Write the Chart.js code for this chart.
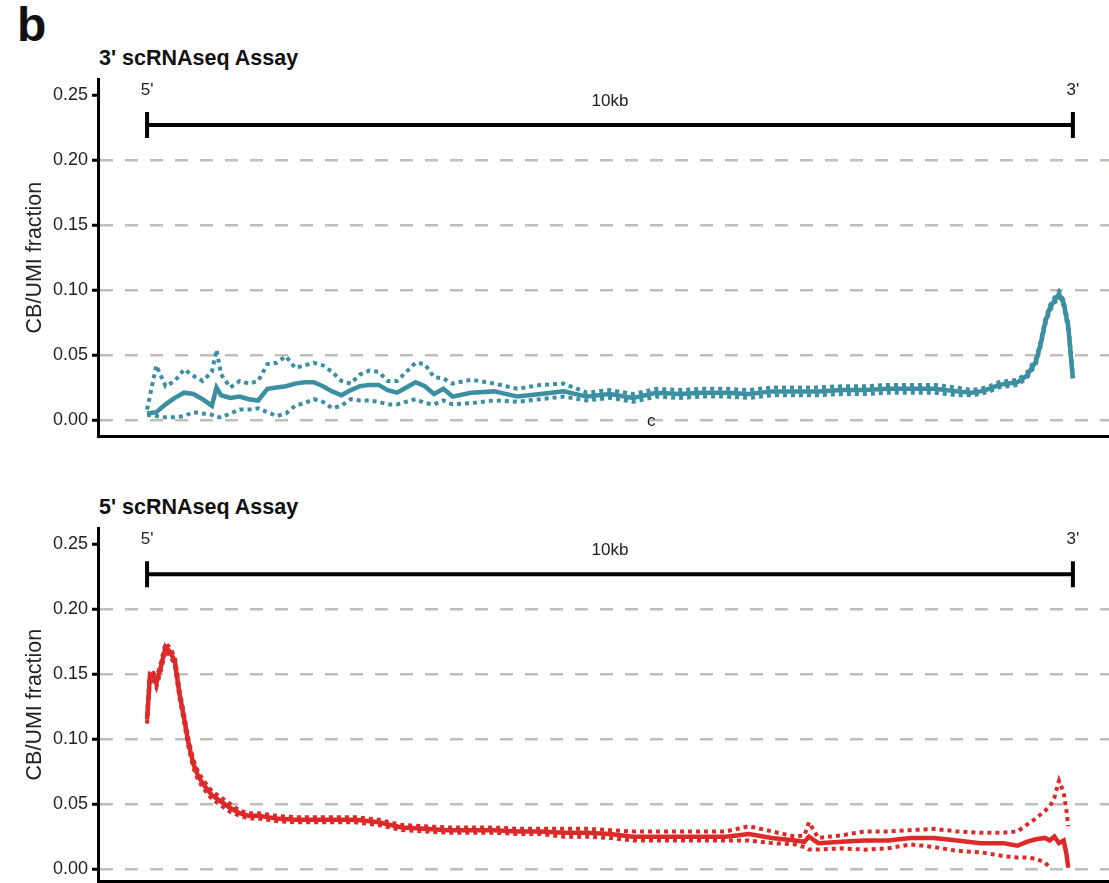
<!DOCTYPE html>
<html>
<head>
<meta charset="utf-8">
<script src="https://cdn.jsdelivr.net/npm/chart.js@4.4.1/dist/chart.umd.min.js"></script>
<style>
  body { margin: 0; background: #fff; width: 1109px; height: 883px; overflow: hidden; position: relative;
         font-family: "Liberation Sans", Arial, sans-serif; color: #111; }
  .panel { position: absolute; left: 0; width: 1109px; }
  .tag { position: absolute; left: 17px; top: 1px; font-size: 48px; font-weight: bold; line-height: 1; }
  .title { position: absolute; left: 99px; font-size: 21.5px; font-weight: bold; line-height: 1; }
  .stray { position: absolute; left: 647px; top: 412px; font-size: 17px; line-height: 1; color: #222; }
</style>
</head>
<body>
<div class="tag">b</div>
<div class="title" style="top:48px">3' scRNAseq Assay</div>
<div class="title" style="top:497px">5' scRNAseq Assay</div>
<div class="panel" style="top:0px; height:451px"><canvas id="chart3"></canvas></div>
<div class="panel" style="top:449px; height:447px"><canvas id="chart5"></canvas></div>
<div class="stray">c</div>
<script>
// gene body position (% of 10kb, 5' -> 3')
const pos3 = [0,1,2,3,4,5,6,7,7.5,8,9,10,11,12,13,14,15,16,17,18,19,20,21,22,23,24,25,26,27,28,29,30,31,32,33,
  35,37.5,40,42.5,45,47.5,50,52.5,55,57.5,60,62.5,65,67.5,70,72.5,75,77.5,80,82.5,85,87.5,
  89,90,91,92,93,94,95,96,96.5,97,97.5,98,98.5,99,99.5,100];
const mean3 = [0.005,0.006,0.012,0.017,0.021,0.020,0.016,0.011,0.025,0.019,0.017,0.018,0.016,0.015,0.024,0.025,0.026,0.028,0.029,0.029,0.026,0.022,0.019,0.023,0.026,0.027,0.027,0.023,0.021,0.025,0.029,0.026,0.020,0.024,0.018,
  0.021,0.022,0.018,0.020,0.022,0.018,0.020,0.017,0.021,0.020,0.021,0.021,0.020,0.022,0.022,0.022,0.023,0.023,0.024,0.024,0.024,0.022,
  0.021,0.022,0.024,0.027,0.028,0.029,0.034,0.045,0.058,0.075,0.086,0.092,0.097,0.090,0.072,0.032];
const upper3 = [0.008,0.042,0.026,0.030,0.039,0.034,0.030,0.037,0.054,0.035,0.025,0.030,0.028,0.030,0.043,0.044,0.049,0.040,0.042,0.044,0.042,0.037,0.030,0.028,0.035,0.038,0.037,0.030,0.030,0.037,0.044,0.043,0.033,0.032,0.028,
  0.031,0.028,0.024,0.027,0.028,0.021,0.023,0.020,0.024,0.023,0.024,0.024,0.023,0.025,0.025,0.025,0.026,0.026,0.027,0.027,0.027,0.025,
  0.023,0.024,0.026,0.029,0.030,0.031,0.036,0.047,0.060,0.077,0.088,0.094,0.099,0.092,0.074,0.034];
const lower3 = [0.004,0.003,0.002,0.002,0.003,0.006,0.005,0.004,0.002,0.002,0.005,0.008,0.008,0.009,0.006,0.003,0.005,0.011,0.013,0.016,0.014,0.009,0.011,0.016,0.015,0.015,0.014,0.012,0.012,0.014,0.016,0.013,0.012,0.015,0.012,
  0.013,0.015,0.014,0.016,0.018,0.015,0.017,0.014,0.018,0.017,0.018,0.018,0.017,0.019,0.019,0.019,0.020,0.020,0.021,0.021,0.021,0.019,
  0.019,0.020,0.022,0.025,0.026,0.027,0.032,0.043,0.056,0.073,0.084,0.090,0.095,0.088,0.070,0.030];

const pos5 = [0,0.3,0.6,1,1.5,2,2.5,3,3.5,4,4.5,5,5.5,6,7,8,9,10,11,12,13,14,16,18,20,
  22.5,25,27.5,30,32.5,35,37.5,40,42.5,45,47.5,50,52.5,55,57.5,60,62.5,65,67.5,70,71,71.5,
  72.5,75,77.5,80,82.5,85,87.5,90,92.5,94,95,96,97,97.5,98,98.5,99,99.3,99.5];
const mean5 = [0.115,0.148,0.150,0.143,0.156,0.171,0.167,0.160,0.135,0.116,0.096,0.081,0.072,0.066,0.057,0.052,0.047,0.043,0.041,0.041,0.040,0.039,0.038,0.038,0.038,
  0.038,0.036,0.032,0.031,0.030,0.030,0.030,0.029,0.029,0.028,0.028,0.027,0.025,0.025,0.025,0.025,0.025,0.027,0.024,0.022,0.021,0.025,
  0.020,0.021,0.022,0.022,0.024,0.024,0.022,0.020,0.020,0.018,0.021,0.023,0.024,0.022,0.025,0.020,0.022,0.012,0.001];
const upper5 = [0.118,0.151,0.153,0.146,0.159,0.174,0.170,0.163,0.138,0.119,0.099,0.084,0.075,0.069,0.060,0.055,0.050,0.045,0.043,0.043,0.042,0.041,0.040,0.040,0.040,
  0.040,0.038,0.034,0.033,0.032,0.032,0.032,0.031,0.031,0.031,0.031,0.030,0.029,0.029,0.029,0.029,0.029,0.033,0.029,0.025,0.026,0.036,
  0.024,0.026,0.029,0.029,0.030,0.031,0.029,0.028,0.028,0.029,0.034,0.039,0.045,0.048,0.055,0.068,0.059,0.045,0.033];
const lower5 = [0.112,0.145,0.147,0.140,0.153,0.168,0.164,0.157,0.132,0.113,0.093,0.078,0.069,0.063,0.054,0.049,0.044,0.041,0.039,0.039,0.038,0.037,0.036,0.036,0.036,
  0.036,0.034,0.030,0.029,0.028,0.028,0.028,0.027,0.027,0.025,0.025,0.024,0.022,0.022,0.022,0.022,0.022,0.022,0.020,0.019,0.017,0.015,
  0.015,0.016,0.015,0.016,0.019,0.017,0.014,0.013,0.010,0.009,0.009,0.008,0.005,0.001,null,null,null,null,null];

const yTicks = [0, 0.05, 0.10, 0.15, 0.20, 0.25];
const bracketFrom = 0;     // 5' end
const bracketTo = 100;     // 3' end
const bracketLevel = 0.227;
const bracketLabels = ["5'", "10kb", "3'"];

const X_MIN = -5.3, X_MAX = 103.9;
const Y_MAX = 0.2625;

const bracketPlugin = {
    id: 'bracket',
    afterDatasetsDraw(chart) {
        const { ctx, scales: { x, y } } = chart;
        const x0 = x.getPixelForValue(bracketFrom);
        const x1 = x.getPixelForValue(bracketTo);
        const yy = y.getPixelForValue(bracketLevel);
        ctx.save();
        ctx.strokeStyle = '#000';
        ctx.lineWidth = 4;
        ctx.beginPath();
        ctx.moveTo(x0, yy); ctx.lineTo(x1, yy);
        ctx.moveTo(x0, yy - 13); ctx.lineTo(x0, yy + 13);
        ctx.moveTo(x1, yy - 13); ctx.lineTo(x1, yy + 13);
        ctx.stroke();
        ctx.fillStyle = '#222';
        ctx.font = '17px "Liberation Sans", Arial, sans-serif';
        ctx.textAlign = 'center';
        ctx.textBaseline = 'middle';
        ctx.fillText(bracketLabels[0], x0, yy - 35);
        ctx.fillText(bracketLabels[1], (x0 + x1) / 2, yy - 24);
        ctx.fillText(bracketLabels[2], x1, yy - 35);
        ctx.restore();
    }
};

function toPoints(pos, vals) {
    return pos.map((p, i) => ({ x: p, y: vals[i] }));
}

function makeChart(canvasId, pos, mean, upper, lower, color, yMin) {
    const ctx = document.getElementById(canvasId).getContext('2d');
    return new Chart(ctx, {
        type: 'line',
        data: {
            datasets: [
                {
                    label: 'mean',
                    data: toPoints(pos, mean),
                    borderColor: color,
                    borderWidth: 4.5,
                    pointRadius: 0,
                    tension: 0
                },
                {
                    label: 'upper',
                    data: toPoints(pos, upper),
                    borderColor: color,
                    borderWidth: 4,
                    borderDash: [4, 4],
                    borderCapStyle: 'butt',
                    pointRadius: 0,
                    tension: 0
                },
                {
                    label: 'lower',
                    data: toPoints(pos, lower),
                    borderColor: color,
                    borderWidth: 4,
                    borderDash: [4, 4],
                    borderCapStyle: 'butt',
                    pointRadius: 0,
                    tension: 0,
                    spanGaps: false
                }
            ]
        },
        options: {
            responsive: true,
            maintainAspectRatio: false,
            animation: false,
            layout: { padding: { top: 79, bottom: 5, left: 0, right: 0 } },
            plugins: { legend: { display: false }, tooltip: { enabled: false } },
            scales: {
                x: {
                    type: 'linear',
                    min: X_MIN,
                    max: X_MAX,
                    ticks: { display: false },
                    grid: { display: false, drawTicks: false },
                    border: { color: '#000', width: 3 },
                    afterFit: s => { s.height = 0; }
                },
                y: {
                    min: yMin,
                    max: Y_MAX,
                    afterBuildTicks: axis => { axis.ticks = yTicks.map(v => ({ value: v })); },
                    ticks: {
                        callback: v => v.toFixed(2),
                        color: '#222',
                        padding: 4,
                        font: { size: 18, family: '"Liberation Sans", Arial, sans-serif' }
                    },
                    grid: {
                        color: c => (c.tick && c.tick.value >= 0.25) ? 'rgba(0,0,0,0)' : '#bfbfb9',
                        lineWidth: 2.5,
                        tickColor: '#000',
                        tickWidth: 3,
                        tickLength: 6,
                        tickBorderDash: []
                    },
                    border: { color: '#000', width: 3, dash: [13, 12] },
                    title: {
                        display: true,
                        text: 'CB/UMI fraction',
                        color: '#222',
                        padding: { top: 22, bottom: 0 },
                        font: { size: 21.5, family: '"Liberation Sans", Arial, sans-serif' }
                    },
                    afterFit: s => { s.width = 98; }
                }
            }
        },
        plugins: [bracketPlugin]
    });
}

makeChart('chart3', pos3, mean3, upper3, lower3, '#3b8fa1', -0.0125);
makeChart('chart5', pos5, mean5, upper5, lower5, '#dc2a2a', -0.0093);
</script>
</body>
</html>
